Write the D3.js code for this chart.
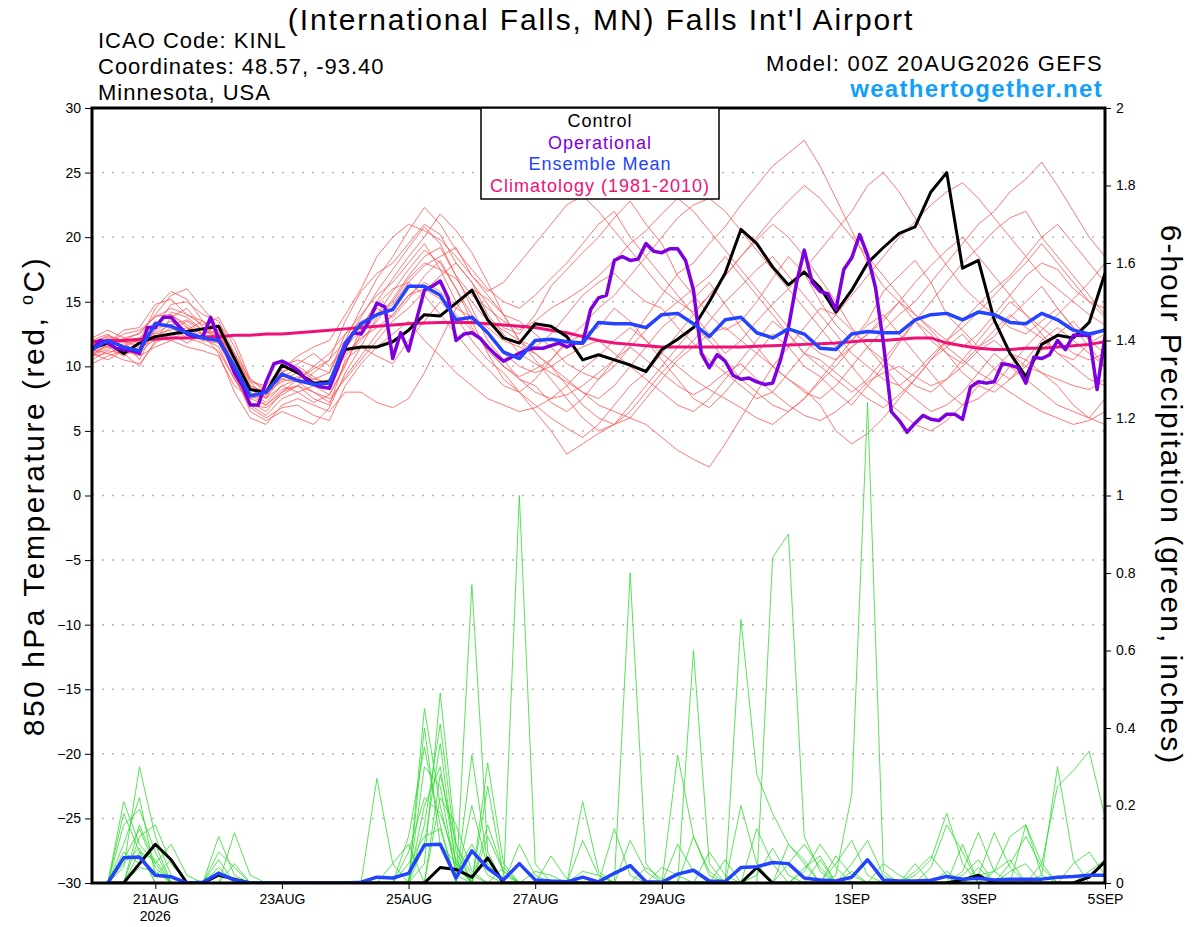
<!DOCTYPE html>
<html>
<head>
<meta charset="utf-8">
<script src="https://cdn.jsdelivr.net/npm/d3@7"></script>
<style>
  body { margin: 0; background: #fff; }
  svg text { font-family: "Liberation Sans", Arial, Helvetica, sans-serif; }
</style>
</head>
<body>
<svg id="chart" width="1200" height="927"></svg>
<script>
// Model run start and x axis ticks
var runStart = Date.UTC(2026, 7, 20, 0);
var tickDates = ["2026-08-21", "2026-08-23", "2026-08-25", "2026-08-27", "2026-08-29", "2026-09-01", "2026-09-03", "2026-09-05"];
var monthNames = ["JAN", "FEB", "MAR", "APR", "MAY", "JUN", "JUL", "AUG", "SEP", "OCT", "NOV", "DEC"];
var tempTicks = [-30, -25, -20, -15, -10, -5, 0, 5, 10, 15, 20, 25, 30];
var precipTicks = [0, 0.2, 0.4, 0.6, 0.8, 1, 1.2, 1.4, 1.6, 1.8, 2];

// 850 hPa temperature, 6-hourly from 00Z 20AUG (65 values)
var control = [
  11.4, 11.8, 11.0, 11.8, 12.3, 12.5, 12.7, 12.9, 13.1, 10.6, 8.2, 8.0, 10.1, 9.5, 8.7, 8.8,
  11.3, 11.5, 11.5, 11.9, 12.8, 14.0, 13.9, 14.9, 15.9, 13.6, 12.2, 11.8, 13.3, 13.1, 12.3, 10.5,
  10.9, 10.5, 10.1, 9.6, 11.3, 12.1, 13.0, 15.0, 17.2, 20.6, 19.5, 17.7, 16.3, 17.3, 16.1, 14.2,
  15.9, 18.0, 19.2, 20.3, 20.8, 23.5, 25.0, 17.6, 18.2, 13.6, 11.0, 9.2, 11.7, 12.4, 12.2, 13.4, 17.2
];
var ensMean = [
  11.3, 12.0, 11.5, 11.2, 13.3, 13.1, 12.6, 12.2, 12.0, 10.0, 7.7, 8.0, 9.4, 8.9, 8.6, 8.7,
  11.8, 13.3, 14.0, 14.4, 16.2, 16.2, 15.5, 13.6, 13.8, 12.6, 11.1, 10.6, 12.0, 12.1, 11.9, 11.8,
  13.4, 13.3, 13.3, 13.0, 14.0, 14.1, 13.3, 12.3, 13.6, 13.8, 12.6, 12.2, 12.9, 12.5, 11.4, 11.3,
  12.5, 12.7, 12.6, 12.6, 13.6, 14.0, 14.1, 13.6, 14.2, 14.0, 13.4, 13.3, 14.1, 13.6, 12.8, 12.5, 12.8
];
var climatology = [
  11.9, 12.0, 12.0, 12.1, 12.1, 12.2, 12.2, 12.3, 12.3, 12.4, 12.4, 12.5, 12.5, 12.6, 12.7, 12.8,
  12.9, 13.0, 13.1, 13.2, 13.3, 13.35, 13.4, 13.4, 13.4, 13.3, 13.2, 13.1, 13.0, 12.8, 12.6, 12.3,
  12.0, 11.8, 11.7, 11.6, 11.5, 11.5, 11.5, 11.5, 11.5, 11.5, 11.55, 11.6, 11.65, 11.7, 11.75, 11.8,
  11.9, 12.0, 12.0, 12.1, 12.2, 12.2, 11.8, 11.6, 11.4, 11.3, 11.3, 11.4, 11.4, 11.5, 11.6, 11.7, 11.9
];
// operational run, 3-hourly (129 values)
var operational = [
  11.3, 12.0, 11.8, 11.4, 11.3, 11.2, 11.0, 13.0, 13.0, 13.8, 13.8, 13.1, 12.5, 12.3, 12.3, 13.8,
  12.1, 11.0, 9.5, 8.5, 7.0, 7.0, 8.8, 10.2, 10.4, 10.1, 9.7, 9.0, 8.6, 8.4, 8.3, 9.8,
  11.5, 12.6, 12.5, 13.5, 14.9, 14.6, 10.6, 12.6, 11.2, 13.6, 15.9, 16.2, 16.6, 15.3, 12.0, 12.5,
  12.6, 12.2, 11.5, 10.9, 10.4, 10.7, 11.0, 11.3, 11.4, 11.4, 11.6, 11.8, 11.5, 11.8, 11.8, 14.4,
  15.3, 15.5, 18.2, 18.5, 18.2, 18.3, 19.5, 18.9, 18.8, 19.1, 19.1, 18.2, 15.9, 11.0, 9.9, 10.9,
  10.4, 9.3, 9.0, 9.1, 8.8, 8.6, 8.7, 10.5, 13.0, 16.4, 19.0, 16.5, 15.8, 15.6, 14.4, 17.5,
  18.4, 20.2, 18.6, 16.1, 11.8, 6.5, 5.8, 4.9, 5.6, 6.2, 5.9, 5.8, 6.3, 6.3, 5.9, 8.4,
  8.8, 8.7, 8.8, 10.2, 10.1, 9.9, 8.7, 10.7, 10.6, 10.9, 12.0, 11.3, 12.4, 12.4, 12.4, 8.2,
  12.3
];
// ensemble members, temperature (65 values each)
var redMembers = [
  [11.5, 12.2, 11.8, 12.0, 14.5, 15.8, 15.2, 13.5, 12.8, 10.2, 8.0, 7.2, 8.5, 9.0, 9.8, 10.5,
   13.5, 15.8, 17.2, 18.0, 19.5, 21.0, 20.2, 18.0, 16.5, 14.8, 13.0, 12.5, 14.0, 16.2, 17.5, 18.8,
   20.0, 21.5, 22.8, 21.0, 19.5, 17.0, 15.5, 14.0, 12.8, 13.5, 15.0, 16.8, 18.5, 17.2, 15.0, 13.2,
   12.0, 13.5, 15.8, 17.0, 18.2, 16.5, 14.0, 12.8, 11.5, 12.3, 13.8, 15.0, 16.2, 14.5, 13.0, 12.2, 13.0],
  [10.8, 11.0, 10.5, 10.2, 11.8, 12.5, 13.0, 12.2, 11.5, 9.0, 7.0, 6.2, 7.5, 8.0, 8.5, 9.0,
   10.8, 12.0, 13.5, 15.2, 17.0, 18.5, 19.2, 17.0, 14.5, 12.0, 10.5, 9.0, 8.5, 7.2, 6.5, 7.5,
   9.0, 10.5, 12.0, 13.8, 15.5, 17.2, 18.0, 19.5, 20.8, 22.5, 24.0, 25.5, 26.5, 27.5, 25.5, 23.0,
   20.5, 18.0, 16.2, 15.0, 13.5, 12.0, 11.0, 10.2, 11.5, 12.8, 14.0, 13.0, 12.2, 11.0, 10.5, 11.8, 12.5],
  [11.2, 11.8, 12.5, 12.8, 13.8, 14.5, 14.0, 13.2, 13.8, 11.5, 8.8, 8.5, 10.0, 10.5, 10.0, 9.5,
   12.5, 14.0, 15.5, 16.5, 18.0, 19.5, 17.5, 15.0, 13.0, 11.2, 10.0, 9.2, 9.8, 10.5, 11.8, 12.5,
   13.0, 14.5, 13.5, 12.0, 10.5, 9.0, 7.5, 6.8, 8.0, 9.5, 11.0, 12.5, 11.5, 10.0, 9.2, 8.0,
   7.0, 8.5, 10.0, 11.8, 13.5, 15.0, 16.5, 18.0, 19.2, 20.5, 21.5, 22.0, 20.0, 18.5, 17.0, 15.5, 14.0],
  [12.0, 12.5, 11.5, 11.0, 12.8, 13.5, 12.5, 12.0, 11.8, 9.5, 6.5, 5.8, 6.5, 6.0, 5.5, 6.8,
   9.5, 11.5, 13.8, 14.8, 16.5, 17.8, 18.5, 19.2, 17.0, 15.5, 14.0, 12.0, 11.0, 10.0, 8.5, 7.0,
   6.0, 5.5, 6.5, 8.0, 9.5, 10.8, 12.0, 13.5, 15.0, 16.2, 17.5, 18.5, 17.0, 15.5, 14.0, 12.5,
   11.0, 10.0, 9.0, 8.5, 9.5, 10.8, 12.0, 13.0, 14.2, 15.5, 16.8, 18.0, 19.5, 18.0, 16.5, 15.0, 13.8],
  [11.0, 10.5, 11.2, 11.8, 12.2, 12.0, 11.5, 11.2, 10.8, 8.5, 7.5, 7.8, 9.0, 9.5, 8.5, 7.8,
   10.0, 13.0, 15.0, 16.8, 18.5, 20.0, 21.8, 20.5, 18.8, 16.5, 14.0, 12.0, 10.5, 9.0, 7.5, 6.0,
   5.0, 5.5, 7.0, 8.5, 10.0, 11.5, 13.0, 12.0, 10.5, 9.0, 8.0, 7.0, 6.5, 7.5, 9.0, 10.5,
   12.0, 13.2, 14.0, 12.5, 11.0, 9.5, 8.0, 7.0, 7.5, 8.5, 10.0, 11.5, 12.8, 14.0, 15.2, 16.5, 18.0],
  [11.8, 11.5, 12.0, 10.5, 13.0, 14.2, 13.8, 12.8, 12.5, 10.5, 8.5, 8.0, 9.5, 10.2, 11.0, 10.0,
   11.5, 12.8, 14.5, 13.8, 15.2, 17.0, 18.2, 16.0, 13.5, 11.0, 9.0, 8.0, 7.0, 6.0, 5.2, 4.5,
   5.5, 7.0, 8.5, 9.5, 11.0, 12.5, 14.0, 15.5, 17.0, 18.5, 19.8, 21.0, 20.0, 18.5, 16.8, 15.0,
   13.0, 11.5, 10.0, 8.5, 7.5, 6.5, 7.0, 8.0, 9.5, 11.0, 10.0, 9.0, 8.0, 7.0, 6.5, 6.0, 7.5],
  [10.5, 11.2, 11.0, 10.0, 12.0, 13.8, 14.5, 13.0, 12.0, 10.0, 7.8, 7.0, 8.0, 8.5, 9.5, 10.5,
   12.0, 14.5, 16.8, 18.5, 20.5, 22.3, 21.0, 19.0, 17.5, 16.0, 15.0, 14.5, 15.5, 16.8, 18.0, 19.5,
   21.0, 22.0, 20.0, 18.5, 17.0, 15.5, 14.0, 12.5, 11.0, 12.0, 13.5, 14.8, 16.0, 17.5, 19.0, 20.5,
   22.0, 24.0, 25.0, 23.5, 21.5, 19.5, 17.8, 16.2, 15.0, 14.0, 13.0, 12.5, 13.5, 14.5, 13.0, 11.5, 10.0],
  [12.2, 12.8, 12.2, 12.5, 14.0, 15.5, 16.0, 14.5, 13.0, 11.0, 9.0, 8.2, 9.0, 8.8, 8.0, 7.5,
   9.0, 10.5, 12.0, 13.5, 14.5, 15.8, 17.0, 18.0, 16.5, 14.0, 12.5, 11.0, 10.2, 9.5, 8.8, 8.0,
   7.5, 8.5, 10.0, 11.5, 13.0, 14.0, 15.2, 16.5, 14.8, 13.0, 11.5, 10.0, 9.0, 8.2, 7.0, 5.0,
   4.0, 4.8, 6.0, 7.5, 9.0, 10.5, 11.5, 12.5, 11.0, 9.8, 9.0, 10.0, 11.2, 12.5, 13.5, 12.0, 11.0],
  [11.0, 11.5, 10.8, 11.5, 12.5, 12.8, 13.5, 12.5, 11.0, 8.0, 6.0, 5.5, 7.0, 7.5, 7.0, 6.5,
   8.0, 8.0, 7.2, 6.8, 7.5, 9.5, 12.0, 14.5, 16.0, 15.2, 14.0, 13.5, 12.5, 11.5, 10.2, 9.5,
   9.0, 10.0, 11.5, 12.8, 14.0, 15.0, 16.0, 17.0, 18.5, 17.0, 15.5, 14.0, 12.5, 11.0, 10.5, 9.5,
   8.5, 7.5, 6.8, 7.8, 9.0, 10.5, 12.0, 13.5, 14.8, 16.0, 17.0, 18.5, 20.0, 21.0, 19.5, 18.0, 16.5],
  [11.6, 12.0, 11.5, 11.0, 13.2, 14.0, 13.0, 12.5, 13.2, 12.0, 9.0, 8.0, 8.8, 9.2, 9.0, 8.8,
   11.0, 12.2, 13.0, 14.0, 15.5, 16.5, 15.8, 14.5, 13.8, 13.0, 12.0, 11.5, 11.0, 10.0, 9.0, 8.0,
   7.0, 6.5, 6.0, 5.5, 4.5, 3.5, 2.8, 2.2, 4.0, 6.0, 8.0, 10.0, 11.5, 13.0, 14.5, 14.0,
   12.8, 11.5, 10.5, 9.5, 8.5, 8.0, 9.0, 10.5, 12.0, 13.5, 15.0, 14.0, 12.5, 11.0, 10.0, 9.0, 8.5],
  [10.8, 11.8, 12.8, 13.0, 14.8, 15.2, 14.0, 13.5, 12.0, 9.8, 7.2, 6.5, 8.0, 9.0, 10.0, 11.0,
   12.5, 13.5, 14.0, 15.0, 16.8, 18.0, 17.5, 16.8, 15.0, 13.5, 12.8, 12.0, 11.5, 12.5, 14.0, 15.5,
   16.5, 17.2, 16.0, 15.0, 14.5, 13.0, 11.8, 10.5, 9.5, 8.5, 7.5, 8.0, 9.5, 11.0, 12.5, 14.0,
   15.5, 17.0, 18.5, 20.0, 21.2, 22.5, 23.5, 24.2, 23.0, 21.5, 20.0, 18.5, 17.0, 16.0, 15.0, 14.0, 13.2],
  [11.3, 11.0, 11.5, 12.0, 13.5, 13.0, 12.2, 11.8, 11.2, 9.0, 7.5, 7.0, 8.2, 8.5, 7.5, 7.0,
   10.5, 11.5, 10.8, 10.2, 12.0, 13.5, 15.0, 13.8, 12.0, 10.5, 9.5, 8.0, 6.5, 5.0, 3.2, 4.0,
   4.8, 5.5, 6.0, 7.5, 9.0, 10.5, 11.5, 12.5, 13.0, 12.0, 11.0, 10.0, 9.0, 8.0, 7.5, 8.5,
   10.0, 11.5, 12.8, 14.0, 15.0, 16.5, 18.0, 19.5, 21.0, 22.0, 23.5, 24.5, 25.8, 24.0, 22.0, 20.0, 18.5],
  [11.9, 12.3, 12.0, 11.5, 12.0, 12.5, 11.8, 12.5, 12.8, 10.8, 8.2, 7.5, 9.2, 9.8, 9.0, 9.5,
   12.0, 13.0, 14.8, 16.0, 16.5, 15.5, 14.0, 12.5, 11.0, 9.8, 8.5, 8.0, 9.0, 10.5, 12.0, 13.2,
   14.5, 15.5, 17.0, 18.5, 20.0, 21.5, 22.5, 23.0, 22.0, 20.5, 19.0, 17.5, 16.0, 14.5, 13.0, 11.5,
   10.0, 8.5, 7.5, 6.5, 5.5, 5.0, 5.8, 7.0, 8.5, 9.8, 11.0, 10.5, 9.5, 8.5, 7.0, 6.0, 5.5],
  [10.2, 10.8, 11.2, 10.8, 11.5, 12.0, 12.8, 13.5, 12.5, 9.2, 6.8, 6.0, 6.8, 7.0, 6.2, 5.8,
   8.5, 10.2, 11.5, 12.5, 13.5, 12.0, 10.8, 9.5, 8.5, 7.5, 7.0, 6.5, 6.8, 7.5, 8.5, 9.8,
   10.8, 12.0, 13.0, 12.0, 11.0, 10.0, 9.0, 8.2, 7.5, 6.8, 6.0, 5.5, 6.5, 7.5, 8.8, 10.0,
   11.5, 12.5, 13.8, 15.0, 14.0, 12.8, 11.5, 10.5, 9.5, 8.8, 8.0, 7.2, 6.5, 6.0, 5.5, 5.8, 6.5],
  [11.4, 11.9, 11.6, 12.2, 13.0, 14.8, 15.0, 14.0, 13.5, 11.0, 8.5, 7.8, 9.8, 10.8, 11.5, 12.0,
   14.0, 16.0, 18.5, 20.0, 21.0, 20.5, 19.8, 18.5, 17.0, 15.8, 16.5, 18.0, 19.5, 21.0, 22.5, 23.2,
   22.0, 20.5, 19.0, 17.5, 16.0, 15.0, 14.2, 15.5, 17.0, 18.5, 20.0, 21.5, 22.8, 24.0, 23.0, 21.5,
   20.0, 18.5, 17.0, 15.5, 14.0, 13.0, 12.0, 11.5, 12.5, 14.0, 15.5, 17.0, 18.0, 17.5, 16.0, 15.0, 14.5],
  [10.9, 11.3, 12.2, 11.8, 12.6, 13.2, 13.6, 12.8, 12.2, 10.8, 8.8, 7.5, 8.5, 8.0, 7.2, 7.8,
   10.2, 12.5, 14.0, 15.8, 17.5, 19.0, 18.0, 16.0, 14.0, 12.5, 11.0, 10.0, 9.5, 10.0, 10.8, 11.5,
   12.0, 11.0, 10.0, 9.0, 8.0, 7.0, 6.5, 7.5, 9.0, 10.5, 12.0, 13.5, 12.5, 11.0, 10.0, 9.0,
   8.0, 9.0, 10.5, 12.0, 13.5, 12.5, 11.0, 9.5, 8.5, 8.0, 9.0, 10.5, 12.0, 13.0, 12.0, 11.0, 10.0],
  [11.7, 12.4, 12.0, 12.6, 13.9, 14.0, 13.2, 12.4, 12.0, 10.0, 7.9, 7.6, 9.6, 10.0, 9.2, 8.5,
   11.8, 13.8, 15.8, 17.5, 19.2, 20.8, 19.5, 17.0, 15.5, 14.5, 13.5, 12.8, 13.5, 14.5, 15.2, 16.0,
   17.0, 18.2, 19.5, 20.5, 21.8, 23.0, 22.0, 20.5, 19.0, 17.5, 16.0, 14.5, 13.0, 12.0, 11.0, 10.5,
   11.5, 12.5, 13.5, 15.0, 16.5, 17.8, 19.0, 20.0, 18.5, 17.0, 15.5, 14.0, 13.0, 12.0, 11.0, 10.5, 11.0],
  [11.1, 11.6, 11.3, 11.0, 12.2, 13.0, 12.5, 12.0, 12.6, 10.0, 7.0, 6.8, 7.8, 8.5, 8.0, 7.2,
   9.2, 10.8, 12.5, 14.0, 15.5, 16.0, 15.2, 14.0, 12.8, 11.5, 10.0, 9.0, 8.0, 7.5, 7.8, 8.5,
   9.5, 10.5, 11.5, 10.5, 9.5, 8.5, 7.8, 8.5, 9.5, 10.2, 9.0, 8.0, 7.0, 6.2, 5.8, 6.5,
   7.5, 8.8, 9.5, 10.0, 9.2, 8.5, 9.0, 10.0, 11.2, 12.0, 11.0, 10.0, 9.5, 9.0, 8.5, 8.2, 9.0]
];

// 6-hour precipitation (inches), from 06Z 20AUG (64 values)
var precipControl = [
  0, 0, .05, .10, .06, 0, 0, .02, .01, 0, 0, 0, 0, 0, 0, 0,
  0, 0, 0, 0, 0, .04, .035, .015, .065, 0, 0, 0, 0, 0, 0, 0,
  0, 0, 0, 0, 0, 0, 0, 0, 0, .04, 0, 0, 0, 0, 0, 0,
  0, 0, 0, 0, 0, 0, .008, .02, 0, 0, 0, 0, 0, 0, .015, .055
];
var precipMean = [
  0, .065, .067, .02, .016, 0, .002, .025, .008, 0, 0, 0, 0, 0, 0, 0,
  .002, .015, .013, .025, .098, .10, .013, .083, .038, .008, .05, .008, .005, .003, .015, .003,
  .025, .045, .003, .002, .023, .033, .005, .004, .04, .042, .053, .05, .013, .008, .005, .015,
  .06, .008, .005, .005, .007, .017, .01, .012, .008, .01, .01, .01, .015, .017, .02, .02
];
var greenMembers = [
  [0, .21, .10, .05, 0, 0, 0, .12, .02, 0, 0, 0, 0, 0, 0, 0,
   0, 0, 0, 0, .45, .20, .03, .10, .02, 0, 0, 0, 0, 0, 0, 0,
   0, 0, .04, .01, 0, 0, 0, 0, 0, 0, 0, .10, .06, 0, 0, 0,
   0, 0, 0, 0, 0, .03, 0, 0, 0, 0, 0, 0, 0, .05, .08, .02],
  [0, .04, .30, .12, .02, 0, 0, .04, 0, 0, 0, 0, 0, 0, 0, 0,
   0, 0, 0, 0, .40, .10, .05, 0, .12, .03, 0, 0, 0, 0, 0, 0,
   .14, .02, 0, 0, 0, 0, 0, 0, 0, 0, 0, 0, 0, 0, 0, 0,
   0, 0, 0, .02, .06, .18, .05, 0, 0, 0, 0, .02, 0, 0, 0, 0],
  [0, .15, .19, .08, 0, 0, 0, .08, .04, 0, 0, 0, 0, 0, 0, 0,
   0, 0, 0, 0, .05, .49, .10, .02, 0, 0, 0, .03, .02, 0, 0, 0,
   0, 0, 0, 0, 0, .12, .02, 0, 0, 0, 0, 0, 0, 0, .05, .11,
   .02, 0, 0, 0, 0, 0, 0, 0, .03, .06, 0, 0, 0, 0, 0, 0],
  [0, .10, .22, .02, .06, 0, 0, 0, 0, 0, 0, 0, 0, 0, 0, 0,
   0, .27, .05, 0, 0, 0, 0, .33, .05, 0, 0, 0, 0, 0, 0, 0,
   0, 0, 0, 0, .33, .12, .03, 0, 0, 0, 0, 0, .04, .07, 0, 0,
   0, 0, 0, 0, 0, 0, 0, .04, 0, 0, .15, .02, .30, .06, 0, 0],
  [0, 0, .12, .15, .05, 0, 0, 0, .13, .02, 0, 0, 0, 0, 0, 0,
   0, 0, 0, 0, .15, .41, .08, 0, 0, 0, 0, 0, 0, 0, .11, .02,
   0, 0, 0, 0, 0, 0, 0, 0, 0, 0, .84, .90, .12, .03, 0, 0,
   0, 0, 0, 0, 0, 0, 0, .02, .13, .04, 0, 0, 0, 0, 0, 0],
  [0, .08, .05, .10, 0, 0, 0, 0, 0, 0, 0, 0, 0, 0, 0, 0,
   0, 0, 0, .12, .35, .15, 0, 0, .31, .05, 0, 0, 0, 0, 0, 0,
   0, .11, .03, 0, 0, 0, 0, 0, 0, .02, .09, .02, 0, 0, 0, 0,
   0, 0, 0, 0, .04, .15, .08, 0, 0, 0, 0, 0, 0, 0, .03, .06],
  [0, .18, .08, 0, 0, 0, 0, .06, 0, 0, 0, 0, 0, 0, 0, 0,
   0, 0, 0, 0, .20, .30, .05, 0, .25, .02, 0, 0, 0, 0, 0, 0,
   0, 0, 0, 0, 0, 0, .08, .02, 0, 0, 0, 0, 0, 0, .07, .02,
   0, 0, 0, 0, 0, 0, .03, .13, .03, 0, 0, 0, 0, 0, 0, 0],
  [0, 0, .15, .05, .10, .02, 0, 0, 0, 0, 0, 0, 0, 0, 0, 0,
   0, 0, 0, 0, 0, .22, .15, .03, 0, 0, .10, .02, 0, 0, 0, 0,
   0, 0, 0, 0, 0, 0, 0, 0, 0, 0, 0, 0, 0, 0, .02, .23,
   1.24, .03, 0, 0, 0, 0, 0, 0, 0, .05, .12, .04, 0, 0, 0, 0],
  [0, .05, .09, 0, 0, 0, 0, 0, 0, 0, 0, 0, 0, 0, 0, 0,
   0, 0, 0, .05, .12, .14, 0, 0, 0, 0, 0, 0, .07, .01, 0, 0,
   0, 0, 0, 0, .10, .03, 0, 0, 0, 0, 0, 0, .03, .10, .04, 0,
   0, 0, 0, 0, 0, 0, 0, .02, .03, .12, .15, .05, 0, 0, 0, 0],
  [0, 0, .04, .03, 0, 0, 0, 0, 0, 0, 0, 0, 0, 0, 0, 0,
   0, 0, 0, 0, 0, 0, 0, .77, .08, 0, 0, 0, 0, 0, 0, 0,
   0, 0, 0, 0, 0, 0, 0, 0, .20, .05, 0, 0, 0, 0, 0, 0,
   0, 0, 0, .03, .07, .02, 0, 0, 0, 0, 0, 0, 0, 0, 0, 0],
  [0, 0, 0, 0, 0, 0, 0, 0, 0, 0, 0, 0, 0, 0, 0, 0,
   0, 0, .05, .10, 0, 0, 0, .20, .04, 0, 0, 0, 0, 0, 0, 0,
   0, 0, 0, 0, 0, .60, .05, 0, 0, 0, 0, 0, 0, 0, 0, .05,
   .11, .02, 0, 0, 0, 0, 0, 0, 0, .03, .05, 0, 0, 0, 0, 0],
  [0, 0, 0, 0, 0, 0, 0, 0, 0, 0, 0, 0, 0, 0, 0, 0,
   0, 0, 0, 0, .30, .25, .02, 0, 0, 0, 1.00, .05, 0, 0, .03, .02,
   0, 0, 0, .04, .02, 0, 0, 0, 0, .14, .05, 0, 0, 0, 0, 0,
   0, .05, .02, 0, 0, 0, 0, 0, 0, 0, 0, 0, 0, 0, 0, 0],
  [0, 0, 0, 0, 0, 0, 0, 0, 0, 0, 0, 0, 0, 0, 0, 0,
   0, 0, 0, 0, 0, .28, .10, 0, 0, 0, 0, 0, 0, 0, .21, .03,
   0, 0, 0, 0, 0, 0, 0, 0, .68, .28, .18, .10, .05, 0, 0, .03,
   0, 0, 0, 0, 0, 0, .02, .06, 0, 0, 0, 0, 0, 0, 0, 0],
  [0, 0, 0, 0, 0, 0, 0, .03, 0, 0, 0, 0, 0, 0, 0, 0,
   0, 0, 0, 0, 0, 0, 0, 0, 0, 0, 0, 0, 0, 0, 0, 0,
   0, .80, .05, 0, 0, 0, 0, 0, 0, 0, 0, .05, .10, .04, 0, 0,
   0, 0, 0, 0, 0, 0, 0, 0, 0, 0, 0, .05, .25, .29, .34, .17],
  [0, .06, .14, .04, 0, 0, 0, 0, 0, 0, 0, 0, 0, 0, 0, 0,
   0, 0, 0, .08, .22, .18, .06, 0, 0, .04, 0, 0, 0, 0, 0, 0,
   0, 0, 0, 0, 0, 0, 0, .06, 0, 0, 0, 0, 0, 0, 0, 0,
   0, 0, 0, .05, 0, 0, 0, 0, 0, 0, 0, 0, 0, 0, 0, 0],
  [0, 0, .08, .06, 0, 0, 0, 0, .05, 0, 0, 0, 0, 0, 0, 0,
   0, 0, 0, 0, .10, .36, .04, 0, .15, .03, 0, 0, 0, 0, 0, 0,
   0, 0, 0, 0, 0, 0, 0, 0, 0, 0, 0, 0, 0, .06, 0, 0,
   0, 0, 0, 0, 0, 0, .10, 0, 0, 0, 0, 0, 0, 0, 0, 0]
];

var svg = d3.select("#chart");
var plot = { left: 92, right: 1105, top: 108, bottom: 883 };

function hourDate(h) { return new Date(runStart + h * 3600e3); }

var x = d3.scaleUtc()
  .domain([hourDate(0), hourDate(384)])
  .range([plot.left, plot.right]);
var yTemp = d3.scaleLinear().domain([-30, 30]).range([plot.bottom, plot.top]);
var yPrecip = d3.scaleLinear().domain([0, 2]).range([plot.bottom, plot.top]);

svg.append("defs").append("clipPath").attr("id", "plotclip")
  .append("rect")
  .attr("x", plot.left).attr("y", plot.top)
  .attr("width", plot.right - plot.left).attr("height", plot.bottom - plot.top);

// dotted grid at temperature ticks
svg.append("g").selectAll("line")
  .data(tempTicks.filter(d => d > -30 && d < 30))
  .join("line")
  .attr("x1", plot.left).attr("x2", plot.right)
  .attr("y1", d => yTemp(d)).attr("y2", d => yTemp(d))
  .attr("stroke", "#b4b4b4")
  .attr("stroke-width", 1.5)
  .attr("stroke-dasharray", "2,8");

// line generators: step in hours between values
function tempLine(step) {
  return d3.line().x((d, i) => x(hourDate(i * step))).y(d => yTemp(d));
}
var precipLine = d3.line().x((d, i) => x(hourDate((i + 1) * 6))).y(d => yPrecip(d));

var lines = svg.append("g").attr("clip-path", "url(#plotclip)");

lines.selectAll(".red")
  .data(redMembers)
  .join("path")
  .attr("class", "red")
  .attr("d", tempLine(6))
  .attr("fill", "none")
  .attr("stroke", "#ff5555")
  .attr("stroke-width", 0.8);

lines.selectAll(".green")
  .data(greenMembers)
  .join("path")
  .attr("class", "green")
  .attr("d", precipLine)
  .attr("fill", "none")
  .attr("stroke", "#2fdc2f")
  .attr("stroke-width", 0.8);

lines.append("path").datum(precipControl)
  .attr("d", precipLine).attr("fill", "none")
  .attr("stroke", "#000").attr("stroke-width", 3).attr("stroke-linejoin", "round");
lines.append("path").datum(precipMean)
  .attr("d", precipLine).attr("fill", "none")
  .attr("stroke", "#2244ff").attr("stroke-width", 3.5).attr("stroke-linejoin", "round");

lines.append("path").datum(climatology)
  .attr("d", tempLine(6)).attr("fill", "none")
  .attr("stroke", "#ee1177").attr("stroke-width", 3);
lines.append("path").datum(control)
  .attr("d", tempLine(6)).attr("fill", "none")
  .attr("stroke", "#000").attr("stroke-width", 3).attr("stroke-linejoin", "round");
lines.append("path").datum(operational)
  .attr("d", tempLine(3)).attr("fill", "none")
  .attr("stroke", "#8000dd").attr("stroke-width", 3.5).attr("stroke-linejoin", "round");
lines.append("path").datum(ensMean)
  .attr("d", tempLine(6)).attr("fill", "none")
  .attr("stroke", "#2244ff").attr("stroke-width", 3.5).attr("stroke-linejoin", "round");

// axes
var fontFam = "'Liberation Sans', Arial, Helvetica, sans-serif";
function styleAxis(g) {
  g.select(".domain").remove();
  g.attr("font-size", 14).attr("font-family", fontFam);
  g.selectAll(".tick line").attr("stroke", "#000");
  g.selectAll(".tick text").attr("fill", "#000");
}

svg.append("g")
  .attr("transform", `translate(${plot.left},0)`)
  .call(d3.axisLeft(yTemp).tickValues(tempTicks).tickSize(7).tickPadding(4))
  .call(styleAxis);

svg.append("g")
  .attr("transform", `translate(${plot.right},0)`)
  .call(d3.axisRight(yPrecip).tickValues(precipTicks).tickSize(6).tickPadding(5)
    .tickFormat(d3.format(".1~f")))
  .call(styleAxis);

var xTicks = tickDates.map(s => new Date(s + "T00:00:00Z"));
svg.append("g")
  .attr("transform", `translate(0,${plot.bottom})`)
  .call(d3.axisBottom(x).tickValues(xTicks).tickSize(6).tickPadding(5)
    .tickFormat(d => d.getUTCDate() + monthNames[d.getUTCMonth()]))
  .call(styleAxis);

svg.append("text")
  .attr("x", x(xTicks[0])).attr("y", 921)
  .attr("text-anchor", "middle")
  .attr("font-size", 14)
  .text("2026");

// frame
svg.append("rect")
  .attr("x", plot.left).attr("y", plot.top)
  .attr("width", plot.right - plot.left).attr("height", plot.bottom - plot.top)
  .attr("fill", "none").attr("stroke", "#000").attr("stroke-width", 3);

// legend
var legend = svg.append("g");
legend.append("rect")
  .attr("x", 481).attr("y", 108).attr("width", 238).attr("height", 91)
  .attr("fill", "#fff").attr("stroke", "#000").attr("stroke-width", 1.5);
var legendItems = [
  { label: "Control", color: "#000" },
  { label: "Operational", color: "#8000dd" },
  { label: "Ensemble Mean", color: "#2244ff" },
  { label: "Climatology (1981-2010)", color: "#ee1177" }
];
legend.selectAll("text")
  .data(legendItems)
  .join("text")
  .attr("x", 600)
  .attr("y", (d, i) => 127 + i * 21.5)
  .attr("text-anchor", "middle")
  .attr("font-size", 18)
  .attr("letter-spacing", 1)
  .attr("fill", d => d.color)
  .text(d => d.label);

// header texts
svg.append("text")
  .attr("x", 601).attr("y", 30)
  .attr("text-anchor", "middle")
  .attr("font-size", 30).attr("letter-spacing", 1.9)
  .text("(International Falls, MN) Falls Int'l Airport");

var infoLines = ["ICAO Code: KINL", "Coordinates: 48.57, -93.40", "Minnesota, USA"];
svg.append("g").selectAll("text")
  .data(infoLines)
  .join("text")
  .attr("x", 98)
  .attr("y", (d, i) => 48 + i * 26)
  .attr("font-size", 22).attr("letter-spacing", 1)
  .text(d => d);

svg.append("text")
  .attr("x", 1103).attr("y", 71)
  .attr("text-anchor", "end")
  .attr("font-size", 22).attr("letter-spacing", 1.35)
  .text("Model: 00Z 20AUG2026 GEFS");

svg.append("text")
  .attr("x", 1103).attr("y", 97)
  .attr("text-anchor", "end")
  .attr("font-size", 24).attr("font-weight", "bold").attr("letter-spacing", 1.3)
  .attr("fill", "#12a0fa")
  .text("weathertogether.net");

// axis titles
var leftTitle = svg.append("text")
  .attr("transform", "translate(44,496) rotate(-90)")
  .attr("text-anchor", "middle")
  .attr("font-size", 30).attr("letter-spacing", 2.5);
leftTitle.append("tspan").text("850 hPa Temperature (red, ");
leftTitle.append("tspan").attr("font-size", 18).attr("dy", -11).text("o");
leftTitle.append("tspan").attr("dy", 11).text("C)");

svg.append("text")
  .attr("transform", "translate(1161,495) rotate(90)")
  .attr("text-anchor", "middle")
  .attr("font-size", 30).attr("letter-spacing", 2)
  .text("6-hour Precipitation (green, inches)");
</script>
</body>
</html>
